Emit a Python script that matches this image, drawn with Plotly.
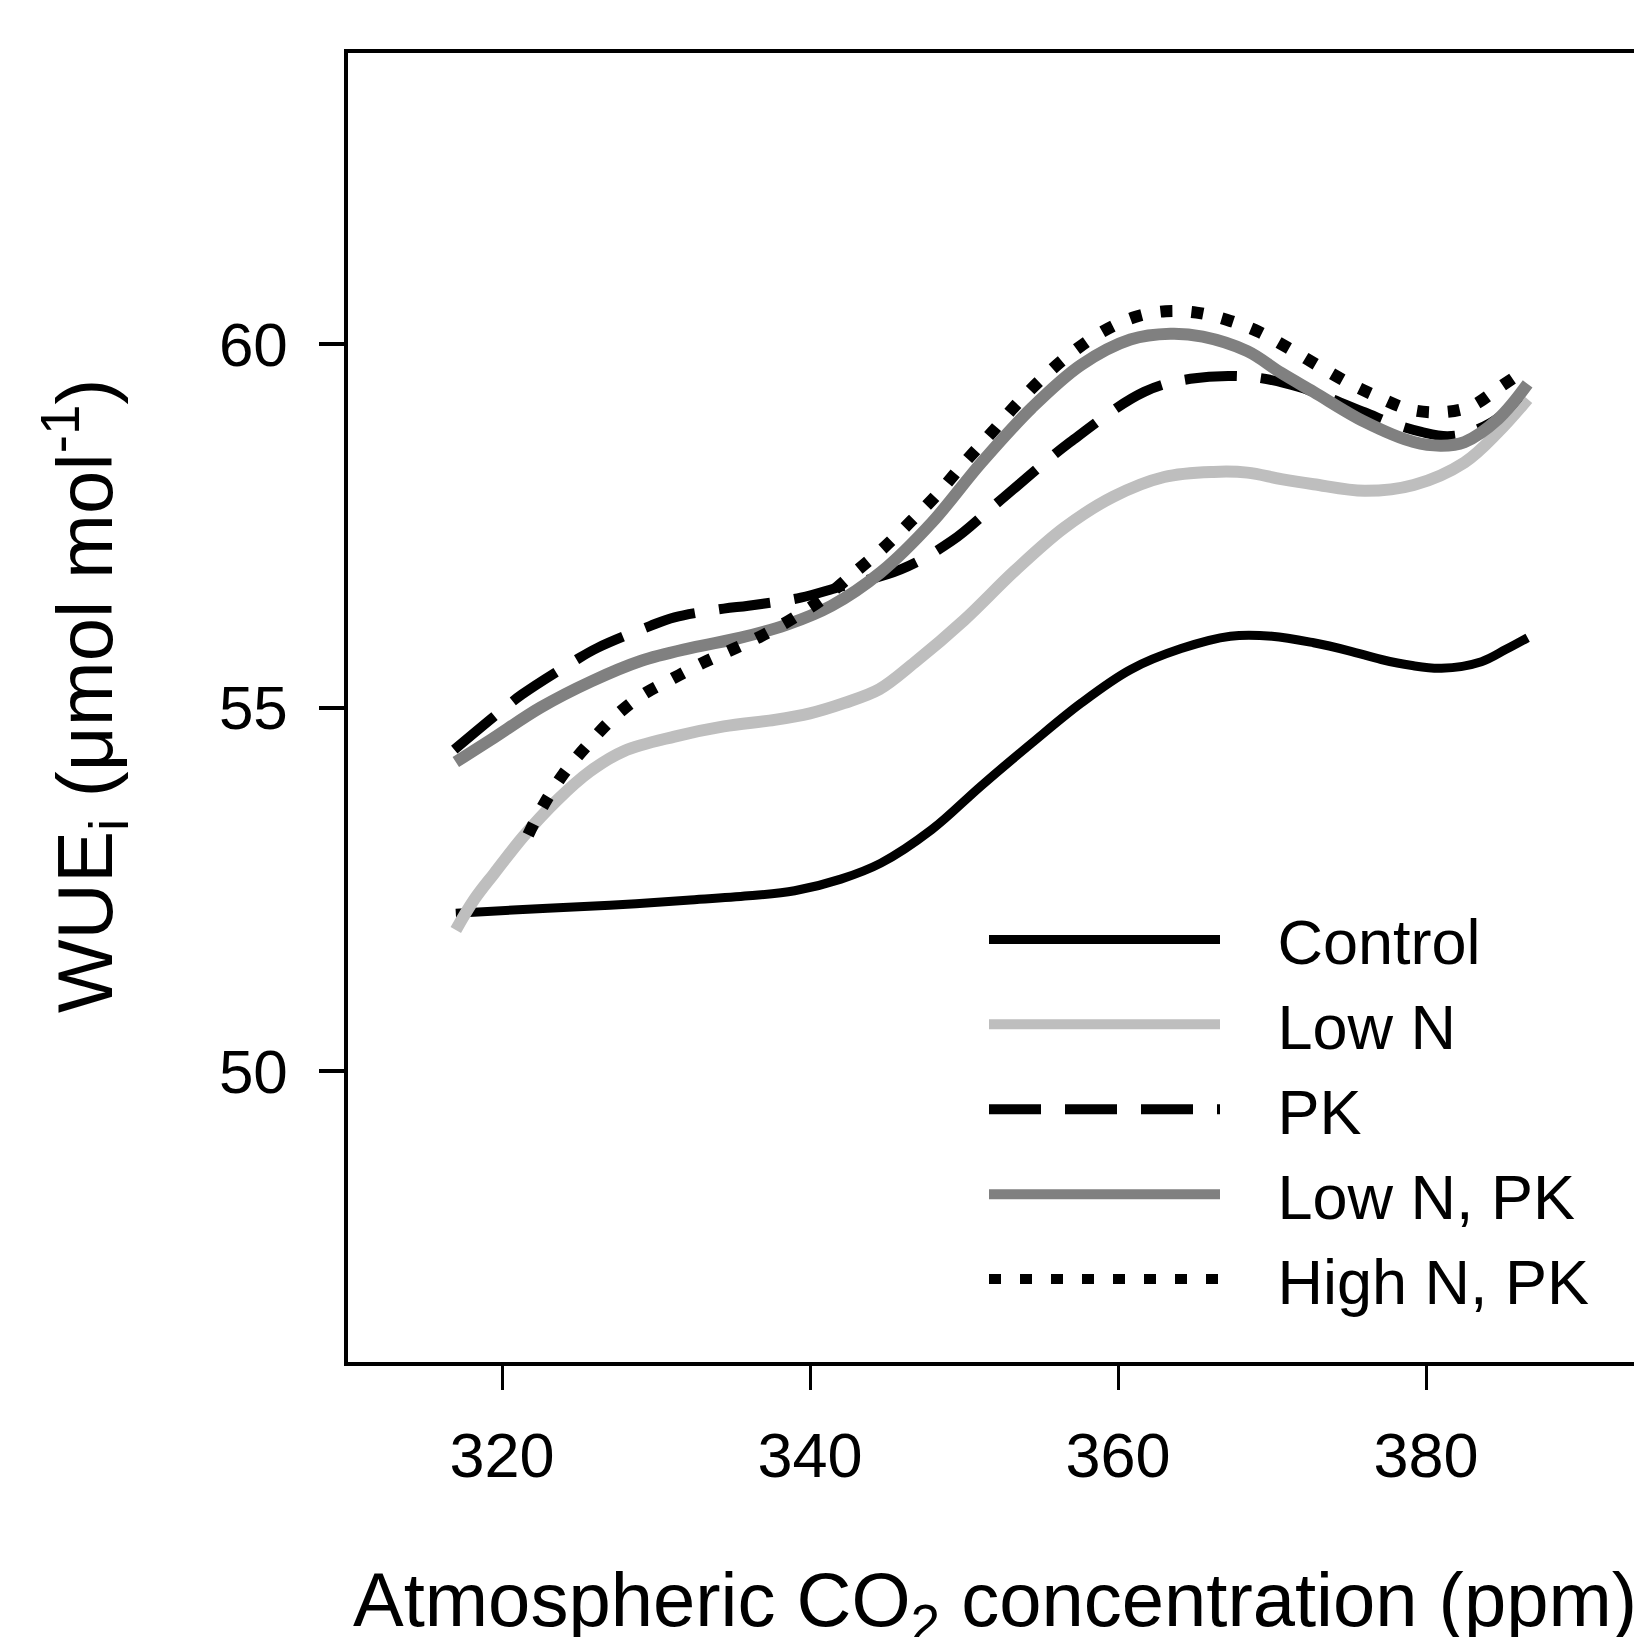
import plotly.graph_objects as go

# ---- data ----
x_control = [317, 322, 327, 332, 336, 339, 342, 344.6, 347.9, 351.1, 354.4, 357.6, 360.8, 364.1, 367.3, 370, 372.7, 375, 377.1, 379, 381, 383.6, 385.2, 386.6]
y_control = [52.17, 52.23, 52.28, 52.35, 52.41, 52.48, 52.64, 52.86, 53.32, 53.92, 54.51, 55.06, 55.52, 55.81, 55.98, 55.98, 55.89, 55.78, 55.66, 55.58, 55.54, 55.63, 55.8, 55.96]

x_lown = [317, 318.2, 319.5, 321.4, 323.6, 325.7, 327.9, 331.2, 334.4, 337.7, 340, 342.2, 344.5, 346.8, 350, 353.3, 356.5, 359.7, 363, 366.2, 368.4, 370.6, 372.7, 376, 379.2, 382.5, 384.7, 386.6]
y_lown = [51.94, 52.36, 52.72, 53.23, 53.73, 54.12, 54.4, 54.6, 54.74, 54.83, 54.92, 55.06, 55.25, 55.62, 56.2, 56.88, 57.47, 57.9, 58.17, 58.24, 58.23, 58.14, 58.07, 57.98, 58.06, 58.37, 58.79, 59.24]

x_pk = [316.9, 319.8, 321.3, 324.7, 326.2, 329.6, 331.2, 334.4, 336, 339.4, 341.8, 345.9, 349.2, 352.2, 356.9, 361.7, 364.7, 368.4, 371.7, 376, 377.9, 379.7, 381.4, 382.9, 384.8, 386.6]
y_pk = [54.42, 54.93, 55.18, 55.64, 55.82, 56.12, 56.24, 56.36, 56.4, 56.51, 56.65, 56.9, 57.29, 57.82, 58.65, 59.34, 59.52, 59.55, 59.41, 59.06, 58.9, 58.79, 58.73, 58.79, 59.0, 59.42]

x_lownpk = [317, 319.3, 322.5, 325.8, 329, 332.3, 335.5, 338.5, 341.4, 344.6, 347.9, 351.1, 354.4, 357.6, 360.8, 363.4, 365.5, 368.4, 370.6, 372.7, 376, 379.2, 381, 382.5, 384.7, 386.6]
y_lownpk = [54.25, 54.56, 55.0, 55.36, 55.64, 55.82, 55.96, 56.14, 56.4, 56.86, 57.54, 58.36, 59.12, 59.71, 60.06, 60.14, 60.1, 59.9, 59.6, 59.34, 58.93, 58.65, 58.6, 58.65, 58.97, 59.45]

x_highnpk = [321.7, 322.7, 324, 325.5, 327.2, 329.1, 331.1, 333.1, 335.1, 337, 339, 341, 342.8, 344.7, 346.6, 348.3, 350, 351.8, 353.5, 355.4, 357.2, 359.1, 361.1, 363.1, 365.1, 367.1, 369.1, 371, 373, 375, 376.9, 378.9, 380.9, 382.9, 384.9, 386.3]
y_highnpk = [53.25, 53.66, 54.09, 54.47, 54.85, 55.17, 55.4, 55.62, 55.81, 56.0, 56.24, 56.52, 56.84, 57.18, 57.57, 57.94, 58.36, 58.78, 59.19, 59.59, 59.91, 60.18, 60.37, 60.45, 60.43, 60.33, 60.17, 59.95, 59.7, 59.46, 59.27, 59.1, 59.06, 59.14, 59.42, 59.62]

x_ticks = [320, 340, 360, 380]
y_ticks = [50, 55, 60]

FONT = "Liberation Sans, Arial, Helvetica, sans-serif"
GAP = "\u00a0\u00a0\u00a0"

fig = go.Figure()
series = [
    ("Control", x_control, y_control, "#000000", 9, "solid"),
    ("Low N", x_lown, y_lown, "#bebebe", 12, "solid"),
    ("PK", x_pk, y_pk, "#000000", 10, "52px,24px"),
    ("Low N, PK", x_lownpk, y_lownpk, "#808080", 12, "solid"),
    ("High N, PK", x_highnpk, y_highnpk, "#000000", 12, "12px,19px"),
]
for name, xs, ys, col, w, dash in series:
    fig.add_trace(go.Scatter(x=xs, y=ys, name=GAP + name, mode="lines",
                             line=dict(color=col, width=w, dash=dash, shape="spline", smoothing=1.0)))

# page body has an 8px margin; positions below are in window pixels
OFF = 8
W, H = 1642 - OFF, 1637 - OFF
L, T = 348 - OFF, 53 - OFF
PH = 1309
B = H - T - PH
PW = W - L
xmin = 310
xmax = xmin + PW / 15.4

def px_x(wx):  # window x -> paper
    return (wx - 348) / PW

def px_y(wy):  # window y -> paper
    return (1362 - wy) / PH

fig.update_layout(
    width=W, height=H,
    margin=dict(l=L, r=0, t=T, b=B, pad=0),
    paper_bgcolor="white", plot_bgcolor="white",
    font=dict(family=FONT, color="black"),
    showlegend=True,
    legend=dict(x=px_x(984), y=px_y(892), xanchor="left", yanchor="top",
                bgcolor="rgba(0,0,0,0)", font=dict(size=63, family=FONT, color="black"),
                itemwidth=231, tracegroupgap=0),
    xaxis=dict(range=[xmin, xmax], tickmode="array", tickvals=x_ticks,
               ticktext=[str(v) for v in x_ticks], showgrid=False, zeroline=False,
               showline=True, linecolor="black", linewidth=3.5, mirror=True,
               ticks="outside", ticklen=24, tickwidth=2.5, tickcolor="black",
               tickfont=dict(size=63, family=FONT), ticklabelstandoff=12),
    yaxis=dict(range=[46, 64], tickmode="array", tickvals=y_ticks,
               ticktext=[str(v) for v in y_ticks], showgrid=False, zeroline=False,
               showline=True, linecolor="black", linewidth=3.5, mirror=False,
               ticks="outside", ticklen=25, tickwidth=3.5, tickcolor="black",
               tickfont=dict(size=62, family=FONT), ticklabelstandoff=19),
)

fig.add_annotation(text="WUE<sub>i</sub> (μmol mol<sup>-1</sup>)", textangle=-90,
                   xref="paper", yref="paper", x=px_x(85), y=px_y(696),
                   xanchor="center", yanchor="middle", showarrow=False,
                   font=dict(size=78, family=FONT, color="black"))
fig.add_annotation(text="Atmospheric CO<sub>2</sub> concentration (ppm)",
                   xref="paper", yref="paper", x=px_x(995), y=px_y(1605),
                   xanchor="center", yanchor="middle", showarrow=False,
                   font=dict(size=76, family=FONT, color="black"))

fig.write_html("out.html")
